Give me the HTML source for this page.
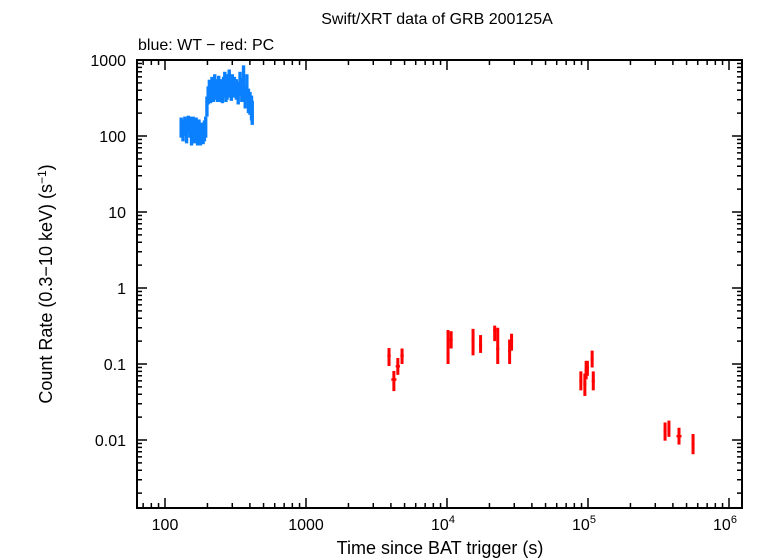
<!DOCTYPE html>
<html><head><meta charset="utf-8"><style>
html,body{margin:0;padding:0;background:#fff;}
svg{display:block;font-family:"Liberation Sans",sans-serif;}
</style></head><body>
<svg id="chart" width="757" height="558" viewBox="0 0 757 558">
<text x="437" y="24" font-size="16" text-anchor="middle">Swift/XRT data of GRB 200125A</text>
<text x="138" y="50" font-size="16">blue: WT − red: PC</text>
<text x="440" y="554" font-size="18" text-anchor="middle">Time since BAT trigger (s)</text>
<text transform="translate(52,284) rotate(-90)" font-size="18" text-anchor="middle">Count Rate (0.3−10 keV) (s<tspan dy="-6" font-size="12">−1</tspan><tspan dy="6">)</tspan></text>
<g id="marks"></g>
<g id="axes"></g>
</svg>
<script>
const wtTime=[130,134,138,142,146,150,154,158,162,166,170,174,178,182,186,190,194,198,202,206,210,215,220,225,230,235,240,245,250,255,260,265,270,275,280,285,290,295,300,310,320,330,340,350,360,370,380,390,400,410,415];
const wtRate=[130,120,140,125,150,135,115,140,120,130,110,125,100,110,105,120,140,250,350,420,380,450,400,500,420,380,470,400,430,380,450,500,400,420,480,550,450,400,480,450,420,380,500,420,600,330,450,300,280,250,200];
const wtLo=[95,85,100,80,110,95,75,95,80,90,75,85,75,80,78,85,95,180,260,300,270,320,280,350,300,280,330,280,300,270,320,350,280,300,330,380,320,290,340,320,300,260,340,280,400,230,300,200,190,160,140];
const wtHi=[175,165,180,165,185,180,160,180,160,175,150,165,140,150,140,160,180,330,450,550,500,600,530,650,560,500,620,540,560,500,600,700,530,560,650,750,600,540,650,600,560,520,700,580,850,450,650,420,380,340,290];
const pcTime=[3880,4200,4480,4800,10170,10700,15300,17300,21800,22900,27800,28700,89000,95000,97000,99000,107000,109000,352000,375000,442000,556000];
const pcRate=[0.13,0.063,0.094,0.13,0.14,0.21,0.21,0.18,0.28,0.16,0.15,0.2,0.06,0.055,0.083,0.09,0.116,0.06,0.0132,0.0144,0.0113,0.0089];
const pcLo=[0.094,0.044,0.072,0.1,0.1,0.16,0.13,0.14,0.2,0.1,0.1,0.15,0.045,0.038,0.063,0.07,0.09,0.045,0.0098,0.011,0.0087,0.0065];
const pcHi=[0.162,0.081,0.12,0.16,0.28,0.27,0.29,0.24,0.32,0.3,0.21,0.25,0.08,0.075,0.11,0.11,0.15,0.08,0.017,0.018,0.0145,0.012];
const pcXerr=[0.012,0.018,0.015,0.012,0.008,0.008,0.006,0.008,0.006,0.008,0.006,0.008,0.006,0.006,0.006,0.006,0.006,0.006,0.006,0.006,0.018,0.004];
const yTickVals=[1000,100,10,1,0.1,0.01];
const yTickLabels=["1000","100","10","1","0.1","0.01"];
const xTickVals=[100,1000,10000,100000,1000000];
const xTickLabels=["100","1000","10^4","10^5","10^6"];

const L=137,R=742,T=60,B=508;
function xs(t){return 165+(Math.log10(t)-2)*141;}
function ys(r){return 60+(3-Math.log10(r))*76;}
const NS="http://www.w3.org/2000/svg";
function mk(tag,attrs,parent){const e=document.createElementNS(NS,tag);for(const k in attrs)e.setAttribute(k,attrs[k]);parent.appendChild(e);return e;}
const marks=document.getElementById('marks'),axes=document.getElementById('axes');
for(let i=0;i<wtTime.length;i++){
  const x=xs(wtTime[i]);
  const r=mk('rect',{x:x-1.6,y:ys(wtHi[i]),width:3.4,height:ys(wtLo[i])-ys(wtHi[i]),fill:'#0a80ff'},marks);
  
  
}
for(let i=0;i<pcTime.length;i++){
  const x=xs(pcTime[i]),y=ys(pcRate[i]);
  const g=mk('g',{},marks);
  
  
  mk('rect',{x:x-1.5,y:ys(pcHi[i]),width:3,height:ys(pcLo[i])-ys(pcHi[i]),fill:'#ff0000'},g);
  const dx=Math.max(pcXerr[i]*141,1.5);
  mk('rect',{x:x-dx,y:y-1,width:2*dx,height:2.5,fill:'#ff0000'},g);
}
const frame=mk('rect',{x:L,y:T,width:R-L,height:B-T,fill:'none',stroke:'#000','stroke-width':2},axes);


for(let d=-3;d<=3;d++){
  for(let m=1;m<10;m++){
    const v=m*Math.pow(10,d);const y=ys(v);
    if(y<T-0.5||y>B+0.5)continue;
    const len=m===1?10:5;
    mk('line',{x1:L,x2:L+len,y1:y,y2:y,stroke:'#000','stroke-width':1.5},axes);
    mk('line',{x1:R,x2:R-len,y1:y,y2:y,stroke:'#000','stroke-width':1.5},axes);
  }
}
for(let d=1;d<=6;d++){
  for(let m=1;m<10;m++){
    const v=m*Math.pow(10,d);const x=xs(v);
    if(x<L-0.5||x>R+0.5)continue;
    const len=m===1?10:5;
    mk('line',{x1:x,x2:x,y1:B,y2:B-len,stroke:'#000','stroke-width':1.5},axes);
    mk('line',{x1:x,x2:x,y1:T,y2:T+len,stroke:'#000','stroke-width':1.5},axes);
  }
}
for(let i=0;i<yTickVals.length;i++){
  const t=mk('text',{x:126,y:ys(yTickVals[i])+6,'font-size':16,'text-anchor':'end'},axes);
  t.textContent=yTickLabels[i];
  
  
}
for(let i=0;i<xTickVals.length;i++){
  const x=xs(xTickVals[i]);
  const t=mk('text',{x:x,y:530,'font-size':16,'text-anchor':'middle'},axes);
  
  
  const lab=xTickLabels[i];
  if(lab.indexOf('^')>=0){
    const p=lab.split('^');
    t.setAttribute('x',x-4);
    const a=mk('tspan',{},t);a.textContent=p[0];
    const b=mk('tspan',{dy:-7,'font-size':11},t);b.textContent=p[1];
  } else t.textContent=lab;
}
</script>
</body></html>
